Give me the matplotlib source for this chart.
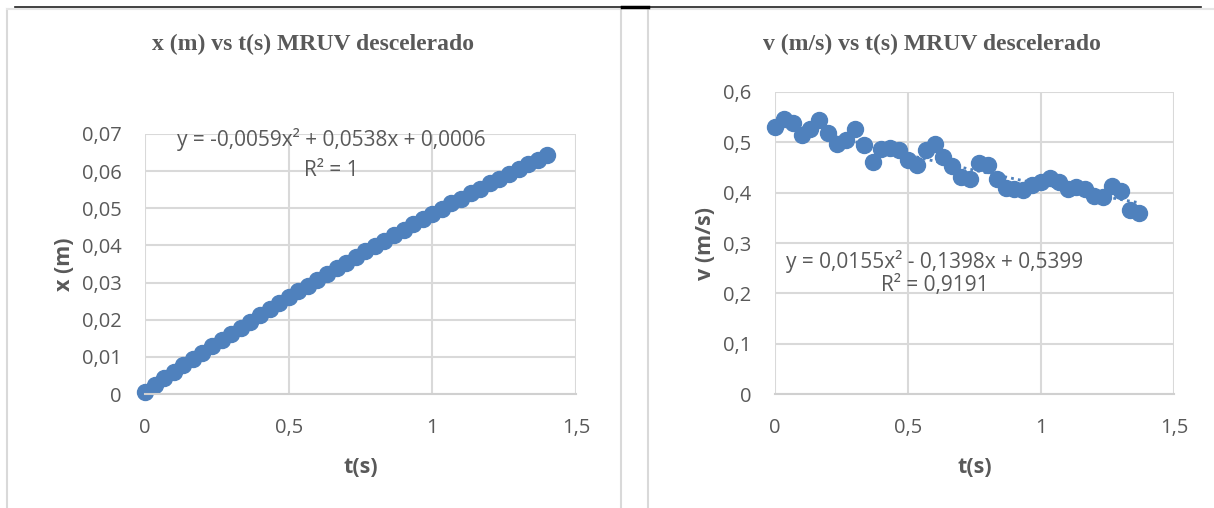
import numpy as np
import matplotlib
matplotlib.use("Agg")
import matplotlib.pyplot as plt
from matplotlib.lines import Line2D

# --- data ---
t_x = [0.0000, 0.0333, 0.0667, 0.1000, 0.1333, 0.1667, 0.2000, 0.2333, 0.2667, 0.3000,
       0.3333, 0.3667, 0.4000, 0.4333, 0.4667, 0.5000, 0.5333, 0.5667, 0.6000, 0.6333,
       0.6667, 0.7000, 0.7333, 0.7667, 0.8000, 0.8333, 0.8667, 0.9000, 0.9333, 0.9667,
       1.0000, 1.0333, 1.0667, 1.1000, 1.1333, 1.1667, 1.2000, 1.2333, 1.2667, 1.3000,
       1.3333, 1.3667, 1.4000]
x_m = [0.0006, 0.0024, 0.0042, 0.0059, 0.0077, 0.0094, 0.0111, 0.0128, 0.0145, 0.0162,
       0.0179, 0.0195, 0.0212, 0.0228, 0.0244, 0.0260, 0.0276, 0.0292, 0.0308, 0.0323,
       0.0338, 0.0354, 0.0369, 0.0384, 0.0399, 0.0413, 0.0428, 0.0442, 0.0457, 0.0471,
       0.0485, 0.0499, 0.0513, 0.0526, 0.0540, 0.0553, 0.0567, 0.0580, 0.0593, 0.0606,
       0.0618, 0.0631, 0.0644]

t_v = t_x[:42]
v_ms = [0.530, 0.547, 0.538, 0.514, 0.527, 0.545, 0.519, 0.497, 0.504, 0.527,
        0.494, 0.461, 0.486, 0.489, 0.484, 0.464, 0.454, 0.484, 0.497, 0.471,
        0.452, 0.431, 0.427, 0.458, 0.454, 0.427, 0.410, 0.408, 0.405, 0.415,
        0.421, 0.430, 0.421, 0.408, 0.411, 0.408, 0.393, 0.391, 0.413, 0.403,
        0.365, 0.359]

x_ticks = [0, 0.5, 1, 1.5]
x_tick_labels = ["0", "0,5", "1", "1,5"]
xm_ticks = [0, 0.01, 0.02, 0.03, 0.04, 0.05, 0.06, 0.07]
xm_tick_labels = ["0", "0,01", "0,02", "0,03", "0,04", "0,05", "0,06", "0,07"]
v_ticks = [0, 0.1, 0.2, 0.3, 0.4, 0.5, 0.6]
v_tick_labels = ["0", "0,1", "0,2", "0,3", "0,4", "0,5", "0,6"]

BLUE = "#4f81bd"
TXT = "#595959"
GRID = "#d9d9d9"
W, H = 1214, 508

fig = plt.figure(figsize=(W / 100, H / 100), dpi=100)


def fx(px):
    return px / W


def fy(py):
    return 1 - py / H


def style_axes(ax, yticks, ylabels, ymax, ylabel):
    ax.set_xlim(0, 1.5)
    ax.set_ylim(0, ymax)
    ax.set_xticks(x_ticks)
    ax.set_xticklabels(x_tick_labels)
    ax.set_yticks(yticks)
    ax.set_yticklabels(ylabels)
    ax.grid(True, color=GRID, linewidth=1.5)
    ax.set_axisbelow(True)
    for s in ["top", "right", "left"]:
        ax.spines[s].set_visible(False)
    ax.spines["bottom"].set_color("#d0d0d0")
    ax.spines["bottom"].set_linewidth(1.5)
    ax.tick_params(length=0, labelsize=14.5, labelcolor=TXT, pad=17)
    ax.tick_params(axis="y", pad=17)
    for lab in ax.get_xticklabels() + ax.get_yticklabels():
        lab.set_family("Open Sans")
    ax.set_xlabel("t(s)", fontsize=15.5, fontweight="bold", color=TXT,
                  family="Open Sans", labelpad=14)
    ax.set_ylabel(ylabel, fontsize=15.5, fontweight="bold", color=TXT,
                  family="Open Sans", labelpad=5)


# left chart: position
ax1 = fig.add_axes([fx(145), fy(394), fx(576) - fx(145), fy(134) - fy(394)])
style_axes(ax1, xm_ticks, xm_tick_labels, 0.07, "x (m)")
c1 = np.polyfit(t_x, x_m, 2)
ax1.plot(t_x, np.polyval(c1, t_x), color=BLUE, linestyle=(0, (1, 1.5)), linewidth=2)
ax1.plot(t_x, x_m, "o", color=BLUE, markersize=11.5, clip_on=False)
ax1.text(0.647, 0.0684, "y = -0,0059x² + 0,0538x + 0,0006", ha="center", va="center",
         fontsize=15, color=TXT, family="Open Sans")
ax1.text(0.647, 0.0603, "R² = 1", ha="center", va="center",
         fontsize=15, color=TXT, family="Open Sans")

# right chart: velocity
ax2 = fig.add_axes([fx(775), fy(394), fx(1174) - fx(775), fy(92) - fy(394)])
style_axes(ax2, v_ticks, v_tick_labels, 0.6, "v (m/s)")
c2 = np.polyfit(t_v, v_ms, 2)
ax2.plot(t_v, np.polyval(c2, t_v), color=BLUE, linestyle=(0, (1, 1.5)), linewidth=2)
ax2.plot(t_v, v_ms, "o", color=BLUE, markersize=11.5, clip_on=False)
ax2.text(0.60, 0.264, "y = 0,0155x² - 0,1398x + 0,5399", ha="center", va="center",
         fontsize=15, color=TXT, family="Open Sans")
ax2.text(0.60, 0.216, "R² = 0,9191", ha="center", va="center",
         fontsize=15, color=TXT, family="Open Sans")

# titles
fig.text(fx(313), fy(44), "x (m) vs t(s) MRUV descelerado", ha="center", va="center",
         fontsize=17, fontweight="bold", color=TXT, family="Liberation Serif")
fig.text(fx(932), fy(44), "v (m/s) vs t(s) MRUV descelerado", ha="center", va="center",
         fontsize=17, fontweight="bold", color=TXT, family="Liberation Serif")

# chart area borders and the black rule on top
frame = [((7, 7), (9, 508), "#d9d9d9", 1.5),
         ((7, 621), (9, 9), "#e6e6e6", 1.5),
         ((621, 621), (9, 508), "#d9d9d9", 1.5),
         ((648, 648), (9, 508), "#d9d9d9", 1.5),
         ((648, 1214), (9, 9), "#e6e6e6", 1.5),
         ((15, 1201), (7, 7), "#222222", 1.2),
         ((622, 648), (7, 7), "#000000", 2.5)]
for xs, ys, col, lw in frame:
    fig.add_artist(Line2D([fx(xs[0]), fx(xs[1])], [fy(ys[0]), fy(ys[1])],
                          transform=fig.transFigure, color=col, linewidth=lw))

fig.savefig("out.png", dpi=100)
